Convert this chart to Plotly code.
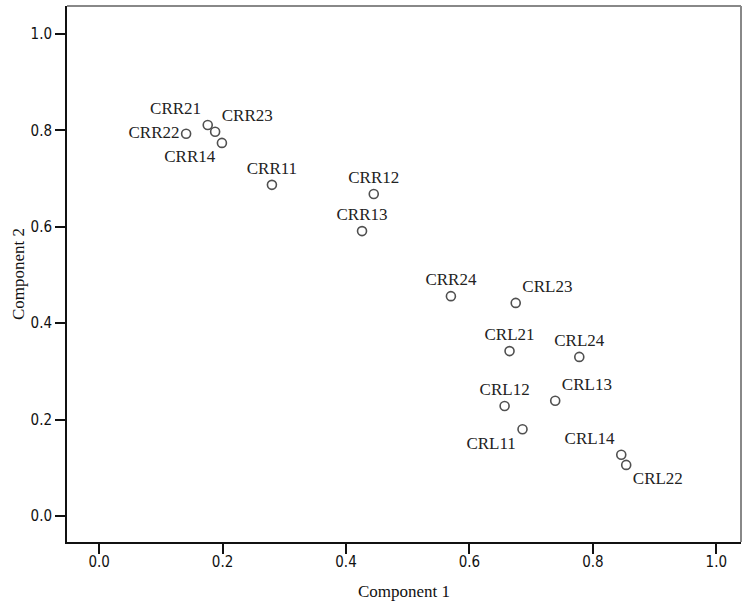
import plotly.graph_objects as go

labels = ["CRR21", "CRR23", "CRR22", "CRR14", "CRR11", "CRR12", "CRR13", "CRR24",
          "CRL23", "CRL21", "CRL24", "CRL12", "CRL13", "CRL11", "CRL14", "CRL22"]
comp1 = [0.176, 0.188, 0.141, 0.199, 0.280, 0.445, 0.426, 0.570,
         0.675, 0.665, 0.778, 0.657, 0.739, 0.686, 0.846, 0.854]
comp2 = [0.811, 0.797, 0.793, 0.774, 0.687, 0.668, 0.591, 0.456,
         0.442, 0.342, 0.330, 0.228, 0.239, 0.180, 0.127, 0.106]
text_pos = ["top left", "top right", "middle left", "bottom left", "top center", "top center",
            "top center", "top center", "top right", "top center", "top center", "top center",
            "top right", "bottom left", "top left", "bottom right"]
tick_vals = [0.0, 0.2, 0.4, 0.6, 0.8, 1.0]
tick_text = ["0.0", "0.2", "0.4", "0.6", "0.8", "1.0"]

fig = go.Figure()
fig.add_trace(go.Scatter(
    x=comp1, y=comp2, mode="markers+text", text=labels, textposition=text_pos,
    textfont=dict(family="Liberation Serif", size=17, color="#222222"),
    marker=dict(symbol="circle-open", size=9, color="#505050", line=dict(width=1.6, color="#505050")),
    cliponaxis=False, hoverinfo="skip"
))

axis_common = dict(
    showgrid=False, zeroline=False, showline=True, linecolor="#111111", linewidth=2,
    ticks="outside", ticklen=10, tickwidth=1.5, tickcolor="#111111",
    tickvals=tick_vals, ticktext=tick_text, automargin=False,
    tickfont=dict(family="Liberation Sans Narrow, DejaVu Sans Condensed", size=15, color="#111111"),
)
fig.update_xaxes(range=[-0.052, 1.04], ticklabelstandoff=-5,
                 title=dict(text="Component 1", standoff=15,
                 font=dict(family="Liberation Serif", size=17, color="#111111")), **axis_common)
fig.update_yaxes(range=[-0.054, 1.058], title=dict(text="Component 2", standoff=2,
                 font=dict(family="Liberation Serif", size=17, color="#111111")), **axis_common)

fig.add_shape(type="line", xref="paper", yref="paper", x0=0, x1=1, y0=1, y1=1,
              line=dict(color="#888888", width=2))
fig.add_shape(type="line", xref="paper", yref="paper", x0=1, x1=1, y0=0, y1=1,
              line=dict(color="#888888", width=2))

fig.update_layout(
    width=742, height=601, margin=dict(l=67, r=1, t=6, b=59),
    plot_bgcolor="white", paper_bgcolor="white", showlegend=False,
)
fig.write_html("out.html", config={"displayModeBar": False},
               post_script="document.body.style.margin='0';document.body.style.overflow='hidden';")
